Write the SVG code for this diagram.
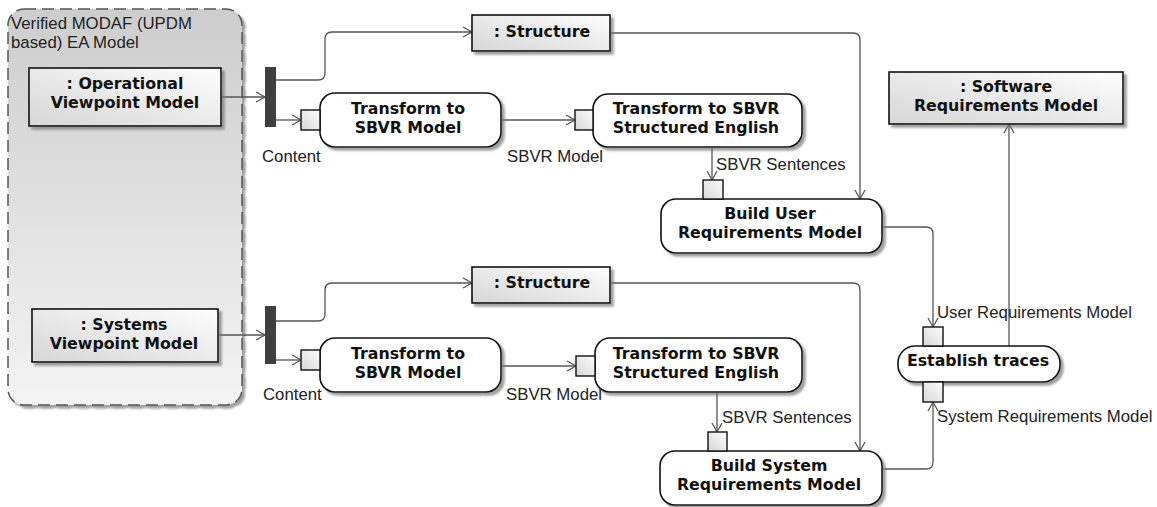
<svg xmlns="http://www.w3.org/2000/svg" width="1157" height="507" viewBox="0 0 1157 507">
<defs>
<linearGradient id="gCont" x1="0" y1="0" x2="0" y2="1"><stop offset="0" stop-color="#cdcdcd"/><stop offset="1" stop-color="#f3f3f3"/></linearGradient>
<linearGradient id="gObj" x1="0" y1="1" x2="1" y2="0"><stop offset="0" stop-color="#d6d6d6"/><stop offset="1" stop-color="#fdfdfd"/></linearGradient>
<filter id="sh" x="-10%" y="-10%" width="130%" height="140%"><feDropShadow dx="3" dy="3" stdDeviation="1" flood-color="#777" flood-opacity="0.7"/></filter>
<marker id="arr" markerWidth="12" markerHeight="12" refX="10" refY="6" orient="auto" markerUnits="userSpaceOnUse"><path d="M1,1 L10,6 L1,11" fill="none" stroke="#555" stroke-width="1.3"/></marker>
<style>
.obj{fill:url(#gObj);stroke:#111;stroke-width:1.6;filter:url(#sh)}
.act{fill:#fff;stroke:#111;stroke-width:1.6;filter:url(#sh)}
.pin{fill:url(#gObj);stroke:#111;stroke-width:1.4}
.bar{fill:#3f3f3f}
.b{font-family:"DejaVu Sans",Verdana,sans-serif;font-weight:bold;font-size:15.8px;fill:#111;text-anchor:middle}
.r{font-family:"Liberation Sans",Arial,sans-serif;font-size:16.8px;fill:#222}
.c{fill:none;stroke:#555;stroke-width:1.3}
.ca{fill:none;stroke:#555;stroke-width:1.3;marker-end:url(#arr)}
</style>
</defs>
<rect width="1157" height="507" fill="#fff"/>

<g id="container">
<rect x="8" y="9" width="234" height="396" rx="16" fill="url(#gCont)" stroke="#555" stroke-width="1.5" stroke-dasharray="12,6" filter="url(#sh)"/>
<text class="r" x="11" y="29">Verified MODAF (UPDM</text>
<text class="r" x="11" y="48">based) EA Model</text>
</g>

<g id="connectors">
<path class="ca" d="M221,97 H265"/>
<path class="ca" d="M276,80 H318 Q325,80 325,73 V39 Q325,32 332,32 H472"/>
<path class="ca" d="M276,120 H301"/>
<path class="ca" d="M501,120 H575"/>
<path class="ca" d="M712,147 V180"/>
<path class="ca" d="M610,33 H853 Q860,33 860,40 V199"/>
<path class="ca" d="M882,227 H926 Q933,227 933,234 V327"/>
<path class="ca" d="M882,469 H926 Q933,469 933,462 V402"/>
<path class="ca" d="M1009,346 V124"/>
<path class="ca" d="M218,335 H265"/>
<path class="ca" d="M276,321 H318 Q325,321 325,314 V290 Q325,283 332,283 H472"/>
<path class="ca" d="M276,360 H301"/>
<path class="ca" d="M501,366 H576"/>
<path class="ca" d="M717,392 V432"/>
<path class="ca" d="M610,283 H853 Q860,283 860,290 V451"/>
</g>

<g id="opViewpoint">
<rect class="obj" x="29" y="68" width="192" height="58"/>
<text class="b" x="125" y="89">: Operational</text>
<text class="b" x="125" y="107.5">Viewpoint Model</text>
</g>
<g id="sysViewpoint">
<rect class="obj" x="32" y="309" width="186" height="53"/>
<text class="b" x="124" y="330">: Systems</text>
<text class="b" x="124" y="348.5">Viewpoint Model</text>
</g>

<g id="fork1"><rect class="bar" x="265" y="67" width="11" height="60"/></g>
<g id="fork2"><rect class="bar" x="265" y="306" width="11" height="58"/></g>

<g id="structure1">
<rect class="obj" x="472" y="15" width="138" height="36"/>
<text class="b" x="542" y="37">: Structure</text>
</g>
<g id="structure2">
<rect class="obj" x="472" y="267" width="138" height="36"/>
<text class="b" x="542" y="288">: Structure</text>
</g>

<g id="transform1">
<rect class="act" x="320" y="93" width="181" height="54" rx="15"/>
<rect class="pin" x="301" y="110" width="19" height="20"/>
<text class="b" x="408" y="114">Transform to</text>
<text class="b" x="408" y="133">SBVR Model</text>
<text class="r" x="262" y="162">Content</text>
</g>
<g id="transform2">
<rect class="act" x="320" y="338" width="181" height="54" rx="15"/>
<rect class="pin" x="301" y="350" width="19" height="20"/>
<text class="b" x="408" y="358.5">Transform to</text>
<text class="b" x="408" y="377.5">SBVR Model</text>
<text class="r" x="263" y="400">Content</text>
</g>

<g id="structEng1">
<rect class="act" x="593" y="94" width="209" height="53" rx="15"/>
<rect class="pin" x="575" y="110" width="18" height="20"/>
<text class="b" x="696" y="113.5">Transform to SBVR</text>
<text class="b" x="696" y="132.5">Structured English</text>
<text class="r" x="507" y="162">SBVR Model</text>
</g>
<g id="structEng2">
<rect class="act" x="595" y="338" width="207" height="54" rx="15"/>
<rect class="pin" x="576" y="356" width="19" height="20"/>
<text class="b" x="696" y="358.5">Transform to SBVR</text>
<text class="b" x="696" y="377.5">Structured English</text>
<text class="r" x="506" y="400">SBVR Model</text>
</g>

<g id="buildUser">
<rect class="act" x="661" y="199" width="221" height="54" rx="15"/>
<rect class="pin" x="703" y="180" width="20" height="19"/>
<text class="b" x="770" y="218.5">Build User</text>
<text class="b" x="770" y="237.5">Requirements Model</text>
<text class="r" x="716" y="170">SBVR Sentences</text>
</g>
<g id="buildSystem">
<rect class="act" x="660" y="451" width="222" height="54" rx="15"/>
<rect class="pin" x="708" y="432" width="19" height="19"/>
<text class="b" x="769" y="471">Build System</text>
<text class="b" x="769" y="490">Requirements Model</text>
<text class="r" x="722" y="423">SBVR Sentences</text>
</g>

<g id="establishTraces">
<rect class="act" x="898" y="346" width="162" height="36" rx="17"/>
<rect class="pin" x="923" y="327" width="20" height="19"/>
<rect class="pin" x="923" y="382" width="20" height="20"/>
<text class="b" x="978" y="366">Establish traces</text>
<text class="r" x="937" y="318">User Requirements Model</text>
<text class="r" x="937" y="422">System Requirements Model</text>
</g>

<g id="softwareReq">
<rect class="obj" x="889" y="72" width="234" height="52"/>
<text class="b" x="1006" y="92">: Software</text>
<text class="b" x="1006" y="111">Requirements Model</text>
</g>
</svg>
